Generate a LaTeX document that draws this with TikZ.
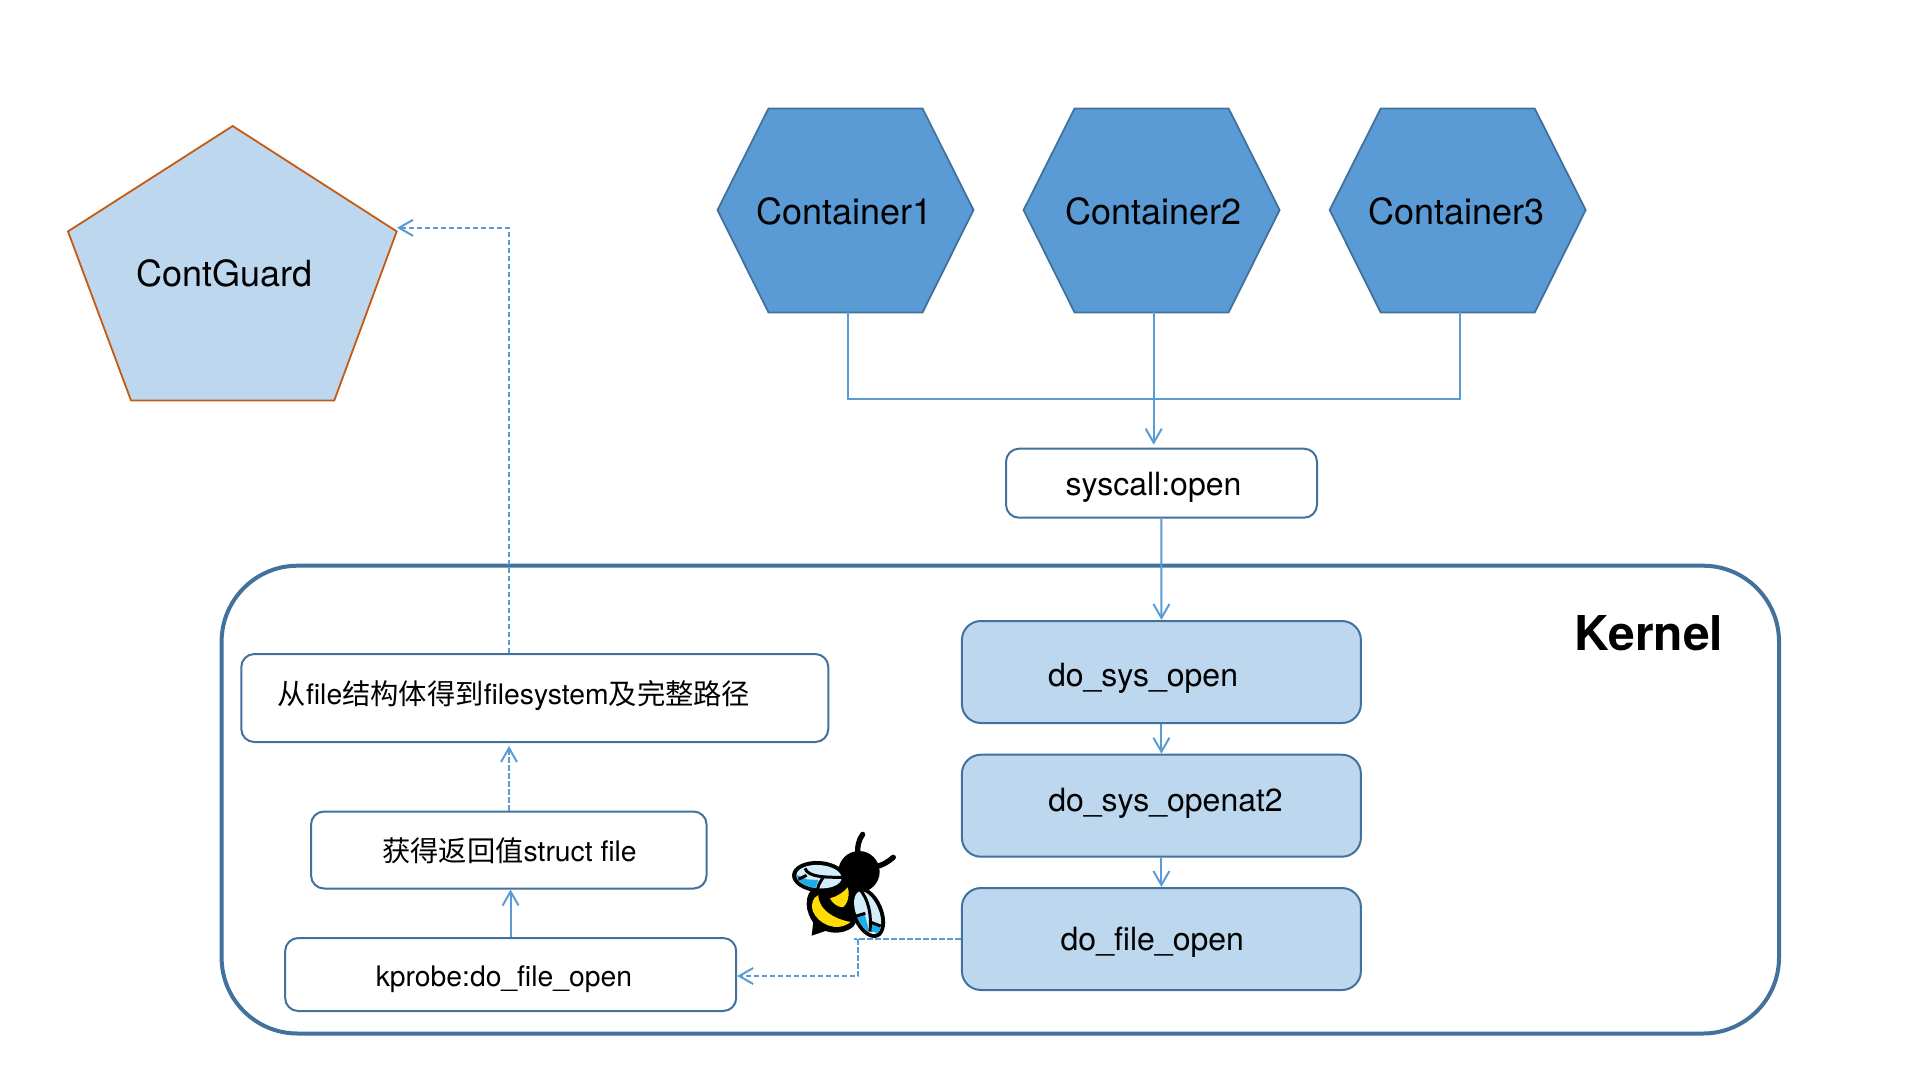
\documentclass[tikz,border=0pt]{standalone}
\usepackage{fontspec}
\setmainfont{TeX Gyre Heros}
\newfontfamily\cjk{Noto Sans CJK SC}
\usetikzlibrary{arrows.meta}

\definecolor{hexfill}{HTML}{5B9BD5}
\definecolor{edgeblue}{HTML}{41719C}
\definecolor{lightfill}{HTML}{BDD7EE}
\definecolor{guardline}{HTML}{C55A11}
\definecolor{wingpale}{HTML}{D3EEFB}
\definecolor{wingcyan}{HTML}{1CAEE8}
\definecolor{beeyellow}{HTML}{FFDD00}

\tikzset{
	hexshape/.style={draw=edgeblue, fill=hexfill, line width=1.8pt},
	hexlabel/.style={minimum width=256pt, minimum height=204pt, inner sep=0pt},
	plainbox/.style={draw=edgeblue, fill=white, line width=2pt, rounded corners=13pt, inner sep=0pt},
	callbox/.style={draw=edgeblue, fill=lightfill, line width=2pt, rounded corners=19pt, inner sep=0pt,
		minimum width=399pt, minimum height=102pt},
	flow/.style={draw=hexfill, line width=2pt, ->},
	flowdash/.style={flow, dash pattern=on 5.5pt off 2.5pt},
	bigtext/.style={font=\fontsize{36}{40}\selectfont},
	boxtext/.style={font=\fontsize{32}{38}\selectfont},
	smalltext/.style={font=\fontsize{28.3}{34}\selectfont},
	vein/.style={black, line width=3pt}
}

\begin{document}
\begin{tikzpicture}[x=1pt, y=-1pt, >={Straight Barb[length=14pt, width=16pt]}]
	\useasboundingbox (0, 0) rectangle (1920, 1080);

	\draw [edgeblue, line width=4pt, rounded corners=76pt] (221.6, 565.7) rectangle (1779, 1033.5);
	\node [font=\fontsize{48}{52}\selectfont\bfseries] (kernel) at (1649, 633.5) {Kernel};

	\draw [guardline, fill=lightfill, line width=1.8pt] (232.7, 126) -- (396.7, 231.4) -- (334.3, 400.4) -- (131, 400.4) -- (68, 231.4) -- cycle;
	\node [bigtext] (contguard) at (224.3, 273) {ContGuard};
	\coordinate (guardport) at (397, 227.8);

	\foreach \n/\x/\t in {1/845.5/-1, 2/1151.6/1.5, 3/1457.7/-1}
	{
		\draw [hexshape] (\x - 128, 210) -- (\x - 77, 108.5) -- (\x + 77, 108.5) -- (\x + 128, 210) -- (\x + 77, 312.5) -- (\x - 77, 312.5) -- cycle;
		\node [hexlabel] (container-\n) at (\x, 210) {};
		\node [bigtext] (container-\n-text) at (\x + \t, 211) {Container\n};
	}

	\node [plainbox, minimum width=311pt, minimum height=69pt] (syscall) at (1161.5, 483.2) {};
	\node [boxtext] (syscall-text) at (1153.5, 487) {syscall:open};

	\node [callbox] (dosysopen) at (1161.4, 672) {};
	\node [callbox] (dosysopenat) at (1161.4, 805.7) {};
	\node [callbox] (dofileopen) at (1161.4, 939) {};
	\node [boxtext] (dosysopen-text) at (1143, 678) {do\_sys\_open};
	\node [boxtext] (dosysopenat-text) at (1165.5, 803) {do\_sys\_openat2};
	\node [boxtext] (dofileopen-text) at (1152.3, 942) {do\_file\_open};

	\node [plainbox, minimum width=587pt, minimum height=88pt] (filebox) at (534.8, 698) {};
	\node [smalltext] (filebox-text) at (514, 696) {\cjk 从\rmfamily file\cjk 结构体得到\rmfamily filesystem\cjk 及完整路径};
	\node [plainbox, minimum width=395.5pt, minimum height=77pt] (retbox) at (508.8, 850) {};
	\node [smalltext] (retbox-text) at (509.4, 851) {\cjk 获得返回值\rmfamily struct file};
	\node [plainbox, minimum width=451pt, minimum height=73pt] (kprobe) at (510.7, 974.5) {};
	\node [smalltext] (kprobe-text) at (503.9, 979.5) {kprobe:do\_file\_open};

	\draw [flow, -] (container-1.south -| 848, 0) -- (848, 399) -- (1459.6, 399) -- (container-3.south -| 1459.6, 0);
	\draw [flow, shorten >=3pt] (container-2.south -| 1153.7, 0) -- (syscall.north -| 1153.7, 0);
	\draw [flow] (syscall) -- (dosysopen);
	\draw [flow] (dosysopen) -- (dosysopenat);
	\draw [flow] (dosysopenat) -- (dofileopen);
	\draw [flow] (kprobe.north -| 510.6, 0) -- (retbox.south -| 510.6, 0);
	\draw [flowdash, shorten >=3pt] (retbox.north -| 509, 0) -- (filebox.south -| 509, 0);
	\draw [flowdash] (filebox.north -| 509, 0) |- (guardport);
	\draw [flowdash, -] (dofileopen.west) -- (854.3, 939);
	\draw [flowdash] (858, 939) -- (858, 976) -- (kprobe.east |- 0, 976);

	% bee
	\begin{scope}[shift={(760, 800)}, x=0.3333pt, y=-0.3333pt]
		\draw [black, line width=5.3pt, line cap=round] (295, 170) .. controls (290, 140) and (296, 120) .. (308, 103);
		\draw [black, line width=5.3pt, line cap=round] (345, 200) .. controls (365, 198) and (385, 185) .. (400, 172);
		\fill [black] (297, 215) circle [radius=62];
		\fill [black] (155, 407) -- (160, 365) -- (205, 390) -- cycle;
		\fill [black] (140, 310) .. controls (140, 270) and (170, 240) .. (240, 240) .. controls (300, 250) and (310, 340) .. (280, 380) .. controls (250, 405) and (200, 405) .. (165, 375) .. controls (150, 355) and (140, 335) .. cycle;
		\fill [beeyellow] (175, 285) .. controls (158, 292) and (152, 315) .. (158, 332) .. controls (172, 370) and (228, 400) .. (272, 366) .. controls (235, 360) and (175, 335) .. cycle;
		\fill [beeyellow] (210, 295) .. controls (230, 290) and (250, 278) .. (263, 262) .. controls (272, 285) and (260, 318) .. (247, 322) .. controls (230, 320) and (216, 308) .. cycle;
		\fill [black, rotate around={-4:(177, 230)}] (177, 230) ellipse [x radius=81, y radius=47];
		\fill [wingpale, rotate around={-4:(177, 230)}] (177, 230) ellipse [x radius=68, y radius=35];
		\begin{scope}
			\clip [rotate around={-4:(177, 230)}] (177, 230) ellipse [x radius=68, y radius=35];
			\fill [wingcyan] (105, 222) -- (140, 238) -- (175, 240) -- (165, 268) -- (125, 250) -- cycle;
		\end{scope}
		\draw [vein] (135, 205) .. controls (145, 232) and (195, 232) .. (252, 232);
		\draw [vein] (172, 275) .. controls (172, 260) and (180, 245) .. (190, 232);
		\draw [vein] (115, 238) -- (140, 226);
		\fill [black, rotate around={-67.5:(323, 338)}] (323, 338) ellipse [x radius=80, y radius=46];
		\fill [wingpale, rotate around={-67.5:(323, 338)}] (323, 338) ellipse [x radius=68, y radius=34];
		\begin{scope}
			\clip [rotate around={-67.5:(323, 338)}] (323, 338) ellipse [x radius=68, y radius=34];
			\fill [wingcyan] (278, 352) -- (314, 342) -- (328, 395) -- (295, 385) -- cycle;
			\fill [wingcyan] (332, 368) -- (365, 380) -- (356, 400) -- (336, 395) -- cycle;
		\end{scope}
		\draw [vein] (300, 268) .. controls (325, 300) and (335, 340) .. (330, 395);
		\draw [vein] (275, 352) -- (316, 340);
		\draw [vein] (328, 365) -- (362, 378);
	\end{scope}
\end{tikzpicture}
\end{document}
